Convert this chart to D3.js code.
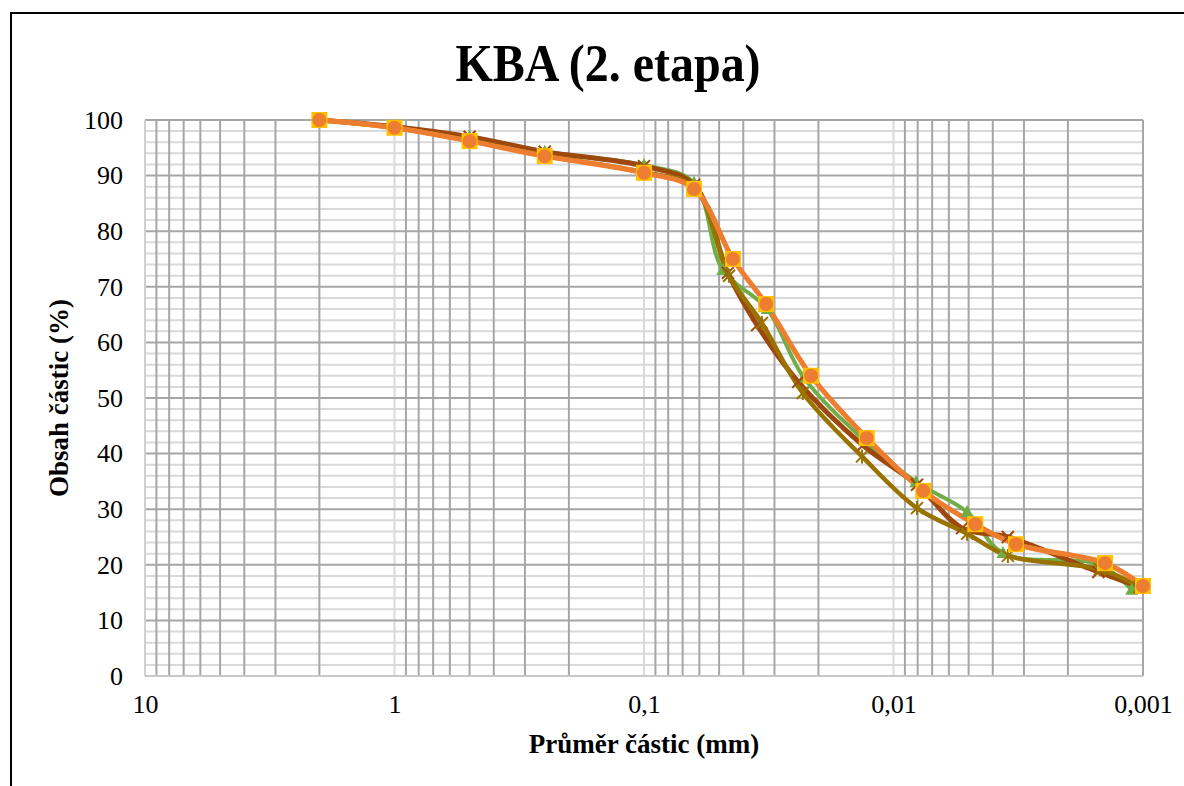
<!DOCTYPE html>
<html>
<head>
<meta charset="utf-8">
<script src="https://cdn.jsdelivr.net/npm/d3@7"></script>
<style>
  body { margin: 0; background: #fff; }
  svg { display: block; }
  text { font-family: "Liberation Serif", "Times New Roman", serif; }
</style>
</head>
<body>
<svg id="chart" width="1184" height="786"></svg>
<script>
// Axis ticks
const xTickValues = [10, 1, 0.1, 0.01, 0.001];
const xTickLabels = ["10", "1", "0,1", "0,01", "0,001"];
const yTickValues = [0, 10, 20, 30, 40, 50, 60, 70, 80, 90, 100];
const yTickLabels = ["0", "10", "20", "30", "40", "50", "60", "70", "80", "90", "100"];

// Sieve fractions shared by all samples (mm)
const sieveSizes = [2, 1, 0.5, 0.25, 0.1, 0.063];

// Sample A (green, triangles)
const greenDiam = [...sieveSizes, 0.0483, 0.0321, 0.0229, 0.0130, 0.00813, 0.00507, 0.00364, 0.00149, 0.00111];
const greenPass = [100, 98.7, 97.0, 94.3, 91.9, 88.7, 73.0, 66.0, 53.7, 42.3, 34.9, 29.5, 22.1, 20.0, 15.5];

// Sample B (brown, crosses)
const brownDiam = [...sieveSizes, 0.0461, 0.0352, 0.0241, 0.01326, 0.00805, 0.00531, 0.00348, 0.00151, 0.00103];
const brownPass = [100, 98.8, 97.0, 94.3, 91.7, 88.3, 72.5, 63.1, 52.9, 41.5, 34.4, 26.6, 25.0, 18.7, 16.0];

// Sample C (olive, asterisks)
const oliveDiam = [...sieveSizes, 0.0456, 0.0337, 0.0231, 0.01337, 0.00805, 0.00507, 0.00348, 0.00149, 0.00103];
const olivePass = [100, 98.6, 96.3, 93.6, 90.6, 87.9, 72.0, 63.5, 50.9, 39.5, 30.2, 25.6, 21.6, 19.2, 16.0];

// Sample D (yellow, squares)
const yellowDiam = [...sieveSizes, 0.0440, 0.0324, 0.0214, 0.0128, 0.0076, 0.0047, 0.00323, 0.00142, 0.001];
const yellowPass = [100, 98.6, 96.2, 93.5, 90.5, 87.6, 75.0, 66.9, 54.0, 42.8, 33.3, 27.3, 23.7, 20.3, 16.2];

// Sample E (orange, circles)
const orangeDiam = [...sieveSizes, 0.0440, 0.0324, 0.0214, 0.0128, 0.0076, 0.0047, 0.00323, 0.00142, 0.001];
const orangePass = [100, 98.6, 96.2, 93.5, 90.5, 87.6, 75.0, 66.9, 54.0, 42.8, 33.3, 27.3, 23.7, 20.3, 16.2];

const series = [
  { diam: greenDiam,  pass: greenPass,  color: "#70ad47", width: 4,   marker: "triangle" },
  { diam: brownDiam,  pass: brownPass,  color: "#9e480e", width: 5,   marker: "cross" },
  { diam: oliveDiam,  pass: olivePass,  color: "#997300", width: 4.5, marker: "star" },
  { diam: yellowDiam, pass: yellowPass, color: "#ffc000", width: 4.5, marker: "square" },
  { diam: orangeDiam, pass: orangePass, color: "#ed7d31", width: 5,   marker: "circle" }
];

const svg = d3.select("#chart");
const plot = { left: 145, right: 1143, top: 120, bottom: 676 };

const x = d3.scaleLog().domain([10, 0.001]).range([plot.left, plot.right]);
const y = d3.scaleLinear().domain([0, 100]).range([plot.bottom, plot.top]);

// Outer chart frame
svg.append("path")
  .attr("d", `M11,786 L11,13 L1184,13`)
  .attr("fill", "none").attr("stroke", "#000").attr("stroke-width", 2);

const grid = svg.append("g");

// Horizontal minor gridlines (every 2 %)
d3.range(2, 100, 2).filter(v => v % 10 !== 0).forEach(v => {
  grid.append("line")
    .attr("x1", plot.left).attr("x2", plot.right)
    .attr("y1", y(v)).attr("y2", y(v))
    .attr("stroke", "#d9d9d9").attr("stroke-width", 2);
});

// Vertical log gridlines: decades light, intermediate values darker
const decades = [10, 1, 0.1, 0.01];
decades.forEach(d => {
  for (let m = 2; m <= 9; m++) {
    const v = m * d / 10;
    grid.append("line")
      .attr("x1", x(v)).attr("x2", x(v))
      .attr("y1", plot.top).attr("y2", plot.bottom)
      .attr("stroke", "#a6a6a6").attr("stroke-width", 2);
  }
});
[1, 0.1, 0.01].forEach(v => {
  grid.append("line")
    .attr("x1", x(v)).attr("x2", x(v))
    .attr("y1", plot.top).attr("y2", plot.bottom)
    .attr("stroke", "#d9d9d9").attr("stroke-width", 2);
});

// Horizontal major gridlines (every 10 %)
yTickValues.filter(v => v > 0).forEach(v => {
  grid.append("line")
    .attr("x1", plot.left).attr("x2", plot.right)
    .attr("y1", y(v)).attr("y2", y(v))
    .attr("stroke", "#a6a6a6").attr("stroke-width", 2);
});

// Plot area borders
grid.append("line").attr("x1", plot.left).attr("x2", plot.left)
  .attr("y1", plot.top).attr("y2", plot.bottom).attr("stroke", "#d0d0d0").attr("stroke-width", 2);
grid.append("line").attr("x1", plot.right).attr("x2", plot.right)
  .attr("y1", plot.top).attr("y2", plot.bottom).attr("stroke", "#a6a6a6").attr("stroke-width", 2);
grid.append("line").attr("x1", plot.left).attr("x2", plot.right)
  .attr("y1", y(0)).attr("y2", y(0)).attr("stroke", "#c8c8c8").attr("stroke-width", 2);

// Y axis tick labels
const yAxis = d3.axisLeft(y).tickValues(yTickValues)
  .tickFormat((d, i) => yTickLabels[i]).tickSize(0).tickPadding(22);
svg.append("g").attr("transform", `translate(${plot.left},0)`).call(yAxis)
  .call(g => g.select(".domain").remove())
  .call(g => g.selectAll("text").attr("font-size", 26).attr("fill", "#000")
    .attr("font-family", "Liberation Serif, Times New Roman, serif"));

// X axis tick labels
const xAxis = d3.axisBottom(x).tickValues(xTickValues)
  .tickFormat((d, i) => xTickLabels[i]).tickSize(0).tickPadding(19);
svg.append("g").attr("transform", `translate(0,${plot.bottom})`).call(xAxis)
  .call(g => g.select(".domain").remove())
  .call(g => g.selectAll("text").attr("font-size", 26).attr("fill", "#000")
    .attr("font-family", "Liberation Serif, Times New Roman, serif"));

// Title and axis titles
svg.append("text").attr("transform", "translate(608,81) scale(1,1.08)").attr("text-anchor", "middle")
  .attr("font-size", 48).attr("font-weight", "bold").text("KBA (2. etapa)");
svg.append("text").attr("x", 644).attr("y", 753).attr("text-anchor", "middle")
  .attr("font-size", 27).attr("font-weight", "bold").text("Průměr částic (mm)");
svg.append("text").attr("transform", "translate(68,398) rotate(-90)").attr("text-anchor", "middle")
  .attr("font-size", 27).attr("font-weight", "bold").text("Obsah částic (%)");

// Lines (smoothed)
const line = d3.line().curve(d3.curveCatmullRom.alpha(0.5));
const lines = svg.append("g");
series.forEach(s => {
  const pts = s.diam.map((d, i) => [x(d), y(s.pass[i])]);
  lines.append("path").attr("d", line(pts))
    .attr("fill", "none").attr("stroke", s.color).attr("stroke-width", s.width)
    .attr("stroke-linejoin", "round").attr("stroke-linecap", "round");
});

// Markers
const markers = svg.append("g");
series.forEach(s => {
  s.diam.forEach((d, i) => {
    const cx = x(d), cy = y(s.pass[i]);
    const g = markers.append("g").attr("transform", `translate(${cx},${cy})`);
    if (s.marker === "triangle") {
      g.append("path").attr("d", "M0,-7 L6.5,5 L-6.5,5 Z").attr("fill", s.color);
    } else if (s.marker === "cross") {
      g.append("path").attr("d", "M-6,-6 L6,6 M-6,6 L6,-6")
        .attr("stroke", s.color).attr("stroke-width", 2);
    } else if (s.marker === "star") {
      g.append("path").attr("d", "M-6,-6 L6,6 M-6,6 L6,-6 M0,-7 L0,7")
        .attr("stroke", s.color).attr("stroke-width", 2);
    } else if (s.marker === "square") {
      g.append("rect").attr("x", -8).attr("y", -8).attr("width", 16).attr("height", 16)
        .attr("fill", s.color);
    } else {
      g.append("circle").attr("r", 7).attr("fill", s.color);
    }
  });
});
</script>
</body>
</html>
